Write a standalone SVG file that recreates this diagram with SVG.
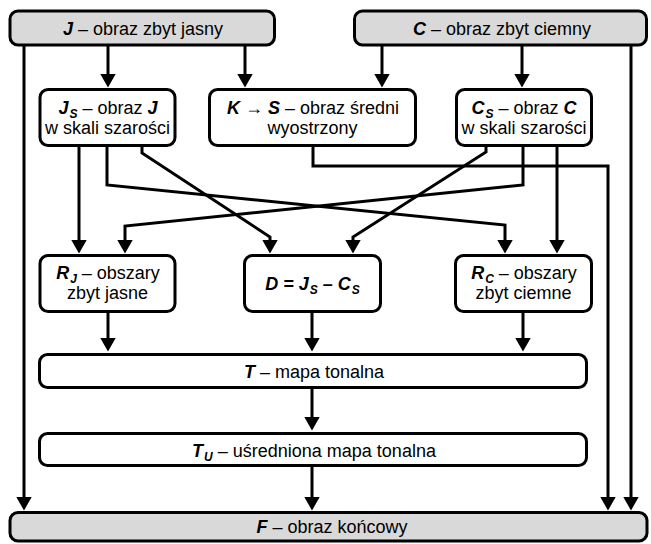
<svg xmlns="http://www.w3.org/2000/svg" width="651" height="544" viewBox="0 0 651 544">
<style>
.box{fill:#fff;stroke:#000;stroke-width:3}
.grey{fill:#d9d9d9}
text{font-family:"Liberation Sans",Arial,sans-serif;font-size:18px;text-anchor:middle;fill:#000}
.bi{font-weight:bold;font-style:italic}
.sub{font-size:12px}
#connectors path{fill:none;stroke:#000;stroke-width:3;stroke-linejoin:miter;marker-end:url(#ah)}
</style>
<defs>
<marker id="ah" markerUnits="userSpaceOnUse" markerWidth="14" markerHeight="16" viewBox="0 0 14 16" refX="1" refY="8" orient="auto">
<path d="M0,0 L14,8 L0,16 z" fill="#000"/>
</marker>
</defs>
<rect width="651" height="544" fill="#fff"/>
<g id="connectors">
<path d="M108,45 V74.5"/>
<path d="M245,45 V74.5"/>
<path d="M382,45 V74.5"/>
<path d="M522,45 V74.5"/>
<path d="M24,45 V497.5"/>
<path d="M631,45 V497.5"/>
<path d="M313,145.5 V166 H608 V497.5"/>
<path d="M79,145.5 V240.5"/>
<path d="M107,145.5 V185 L505,225 V240.5"/>
<path d="M523,145.5 V185 L125,226 V240.5"/>
<path d="M142,145.5 V153 L270,237 V240.5"/>
<path d="M486,145.5 V152 L353,237 V240.5"/>
<path d="M557,145.5 V240.5"/>
<path d="M108,311.5 V338.5"/>
<path d="M312,311.5 V338.5"/>
<path d="M523,311.5 V338.5"/>
<path d="M312,387.5 V417.5"/>
<path d="M312,465.5 V497.5"/>
</g>
<g id="J">
<rect class="box grey" x="10" y="11" width="264.5" height="34" rx="8"/>
<text x="143" y="34.5"><tspan class="bi">J</tspan> – obraz zbyt jasny</text>
</g>
<g id="C">
<rect class="box grey" x="354.5" y="11" width="292" height="34" rx="8"/>
<text x="502" y="34.5"><tspan class="bi">C</tspan> – obraz zbyt ciemny</text>
</g>
<g id="Js">
<rect class="box" x="40" y="89.5" width="135" height="56" rx="8"/>
<text x="108" y="113.5"><tspan class="bi">J</tspan><tspan class="bi sub" dx="1" dy="4">S</tspan><tspan dy="-4"> – obraz </tspan><tspan class="bi">J</tspan></text>
<text x="107.5" y="133.5">w skali szarości</text>
</g>
<g id="K">
<rect class="box" x="209.5" y="89.5" width="206" height="56" rx="8"/>
<text x="313" y="113.5"><tspan class="bi">K</tspan> → <tspan class="bi">S</tspan> – obraz średni</text>
<text x="312.5" y="133.5">wyostrzony</text>
</g>
<g id="Cs">
<rect class="box" x="456.5" y="89.5" width="135" height="56" rx="8"/>
<text x="524" y="113.5"><tspan class="bi">C</tspan><tspan class="bi sub" dx="1" dy="4">S</tspan><tspan dy="-4"> – obraz </tspan><tspan class="bi">C</tspan></text>
<text x="524" y="133.5">w skali szarości</text>
</g>
<g id="Rj">
<rect class="box" x="40" y="255.5" width="135" height="56" rx="8"/>
<text x="108" y="279"><tspan class="bi">R</tspan><tspan class="bi sub" dx="1" dy="4">J</tspan><tspan dy="-4"> – obszary</tspan></text>
<text x="107.5" y="299">zbyt jasne</text>
</g>
<g id="D">
<rect class="box" x="244.5" y="255.5" width="136" height="56" rx="8"/>
<text x="312.5" y="289.5" class="bi">D = J<tspan class="sub" dx="1" dy="4">S</tspan><tspan dy="-4"> – C</tspan><tspan class="sub" dx="1" dy="4">S</tspan></text>
</g>
<g id="Rc">
<rect class="box" x="455.5" y="255.5" width="136" height="56" rx="8"/>
<text x="524" y="279"><tspan class="bi">R</tspan><tspan class="bi sub" dx="1" dy="4">C</tspan><tspan dy="-4"> – obszary</tspan></text>
<text x="523.5" y="299">zbyt ciemne</text>
</g>
<g id="T">
<rect class="box" x="39.5" y="354.5" width="547" height="33" rx="8"/>
<text x="314" y="378"><tspan class="bi">T</tspan> – mapa tonalna</text>
</g>
<g id="Tu">
<rect class="box" x="39.5" y="433.5" width="547" height="32" rx="8"/>
<text x="314" y="456.5"><tspan class="bi">T</tspan><tspan class="bi sub" dx="1" dy="4">U</tspan><tspan dy="-4"> – uśredniona mapa tonalna</tspan></text>
</g>
<g id="F">
<rect class="box grey" x="10" y="512.5" width="637" height="28.5" rx="8"/>
<text x="332" y="533"><tspan class="bi">F</tspan> – obraz końcowy</text>
</g>
</svg>
